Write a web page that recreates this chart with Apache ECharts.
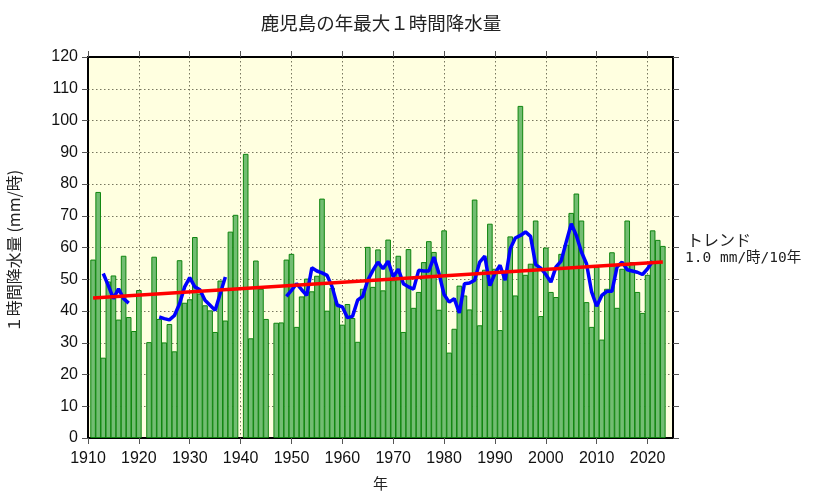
<!DOCTYPE html>
<html>
  <head>
    <meta charset="utf-8" />
    <title>鹿児島の年最大1時間降水量</title>
    <script src="https://cdn.jsdelivr.net/npm/echarts@6/dist/echarts.min.js"></script>
    <style>
      body { margin: 0; background: #fff; }
      #chart { width: 833px; height: 498px; }
    </style>
  </head>
<body>
  <div id="chart"></div>
  <script type="text/javascript">
// rainfall per year, starting 1911 (null = no data)
var firstYear = 1911;
var rainfall = [
  56.2, 77.5, 25.3, 49.3, 51.2, 37.3, 57.4, 38.1, 33.7, 46.6,
  null, 30.2, 57.1, 37.5, 30.1, 35.9, 27.3, 56.0, 42.6, 43.7,
  63.3, 45.5, 41.8, 40.2, 33.4, 49.6, 37.0, 65.0, 70.3, null,
  89.5, 31.4, 55.9, 47.0, 37.5, null, 36.3, 36.4, 56.2, 58.0,
  35.0, 44.6, 50.2, 46.2, 51.1, 75.4, 40.1, 47.3, 42.3, 35.7,
  42.2, 37.8, 30.3, 47.0, 60.2, 47.6, 59.4, 46.5, 62.5, 49.7,
  57.4, 33.4, 59.5, 41.0, 46.0, 55.4, 62.0, 58.6, 40.4, 65.4,
  26.9, 34.4, 48.0, 44.9, 40.5, 75.1, 35.5, 53.0, 67.5, 53.3,
  34.0, 51.8, 63.5, 44.9, 104.6, 51.4, 54.9, 68.5, 38.4, 60.0,
  46.0, 44.4, 58.0, 60.9, 70.9, 77.0, 68.5, 42.8, 35.0, 53.9,
  31.0, 47.0, 58.5, 41.0, 53.3, 68.5, 55.4, 46.0, 39.4, 51.4,
  65.4, 62.4, 60.5
];
// five year running mean, null where it breaks
var meanYears = [
  1913, 1914, 1915, 1916, 1917, 1918, 1919,
  1924, 1925, 1926, 1927, 1928, 1929, 1930, 1931, 1932, 1933, 1934, 1935, 1936, 1937, 1938,
  1949, 1950, 1951, 1952, 1953, 1954, 1955, 1956, 1957, 1958, 1959, 1960, 1961, 1962, 1963,
  1964, 1965, 1966, 1967, 1968, 1969, 1970, 1971, 1972, 1973, 1974, 1975, 1976, 1977, 1978,
  1979, 1980, 1981, 1982, 1983, 1984, 1985, 1986, 1987, 1988, 1989, 1990, 1991, 1992, 1993,
  1994, 1995, 1996, 1997, 1998, 1999, 2000, 2001, 2002, 2003, 2004, 2005, 2006, 2007, 2008,
  2009, 2010, 2011, 2012, 2013, 2014, 2015, 2016, 2017, 2018, 2019, 2020, 2021
];
var meanValues = [
  51.8, 48.0, 43.9, 47.0, 43.9, 42.5, null,
  38.1, 37.6, 37.2, 38.6, 42.3, 47.6, 50.5, 47.6, 46.7, 43.4, 41.8, 40.2, 45.5, 50.7, null,
  44.6, 46.5, 48.6, 46.7, 44.9, 53.6, 52.6, 52.0, 51.2, 47.6, 41.8, 41.3, 37.9, 38.3, 43.4,
  44.6, 49.7, 52.8, 55.4, 53.3, 55.7, 50.7, 53.2, 48.6, 47.6, 46.9, 52.8, 52.6, 52.6, 57.0,
  51.8, 45.2, 42.8, 43.9, 39.4, 48.6, 48.8, 49.7, 55.4, 57.3, 48.0, 51.8, 54.4, 49.7, 59.6,
  63.0, 63.8, 64.9, 63.5, 54.6, 53.5, 51.5, 49.1, 53.9, 55.7, 61.7, 67.5, 63.8, 58.6, 54.9,
  46.0, 41.5, 44.9, 46.2, 46.2, 53.9, 55.4, 53.0, 52.6, 52.2, 51.5, 53.3, 55.7
];
var trendYears = [1911, 2023];
var trendValues = [44.1, 55.4];
var tickYears = [1910, 1920, 1930, 1940, 1950, 1960, 1970, 1980, 1990, 2000, 2010, 2020];

var fontLatin = 'Liberation Sans, Arial, sans-serif';
var fontJp = '"Noto Sans CJK JP", sans-serif';

function pairs(xs, ys) {
  return xs.map(function (x, i) { return [x, ys[i]]; });
}
var barData = rainfall.map(function (v, i) { return [firstYear + i, v]; });

var frameLine = { show: true, onZero: false, lineStyle: { color: '#000', width: 2 } };
var tick = { show: true, inside: false, length: 6, lineStyle: { color: '#555', width: 1 } };
var xTick = { show: true, inside: false, length: 6, customValues: tickYears, lineStyle: { color: '#555', width: 1 } };
var dots = { show: true, lineStyle: { color: '#77775f', width: 1, type: [1.5, 2.5] } };

var chart = echarts.init(document.getElementById('chart'));
chart.setOption({
  animation: false,
  backgroundColor: '#fff',
  textStyle: { fontFamily: fontLatin },
  title: {
    text: '鹿児島の年最大１時間降水量',
    left: 376,
    top: 9,
    textAlign: 'center',
    textStyle: { fontFamily: fontJp, fontSize: 18.5, fontWeight: 'normal', color: '#222' }
  },
  grid: {
    left: 88, right: 160, top: 57, bottom: 60,
    outerBoundsMode: 'none',
    show: true,
    backgroundColor: '#ffffe0',
    borderWidth: 0
  },
  xAxis: [
    {
      type: 'value', min: 1910, max: 2025, interval: 10,
      name: '年', nameLocation: 'middle', nameGap: 38,
      nameTextStyle: { fontFamily: fontJp, fontSize: 15, color: '#222' },
      axisLine: frameLine, axisTick: xTick, splitLine: dots,
      axisLabel: {
        fontFamily: fontLatin, fontSize: 16, color: '#111', margin: 13,
        customValues: tickYears,
        formatter: function (v) { return String(v); }
      }
    },
    {
      type: 'value', min: 1910, max: 2025, interval: 10, position: 'top',
      axisLine: frameLine, axisTick: xTick, splitLine: { show: false }, axisLabel: { show: false }
    }
  ],
  yAxis: [
    {
      type: 'value', min: 0, max: 120, interval: 10,
      name: '１時間降水量 (mm/時)', nameLocation: 'middle', nameGap: 66,
      nameTextStyle: { fontFamily: fontJp, fontSize: 16, color: '#222', padding: [0, 7, 0, 0] },
      axisLine: frameLine, axisTick: tick, splitLine: dots,
      axisLabel: { fontFamily: fontLatin, fontSize: 16, color: '#111', margin: 10 }
    },
    {
      type: 'value', min: 0, max: 120, interval: 10, position: 'right',
      axisLine: frameLine, axisTick: tick, splitLine: { show: false }, axisLabel: { show: false }
    }
  ],
  graphic: [
    {
      type: 'text', left: 687, top: 232,
      style: { text: 'トレンド', font: '16px ' + fontJp, fill: '#222' }
    },
    {
      type: 'text', left: 685, top: 251,
      style: { text: '1.0 mm/時/10年', font: '14.5px "DejaVu Sans Mono", ' + fontJp, fill: '#222' }
    }
  ],
  series: [
    {
      type: 'bar',
      data: barData,
      barWidth: 5.6,
      itemStyle: { color: '#72bd72', borderColor: '#0f850f', borderWidth: 1 },
      z: 2
    },
    {
      type: 'line',
      data: pairs(meanYears, meanValues),
      showSymbol: false,
      connectNulls: false,
      lineStyle: { color: '#0000ff', width: 3.5 },
      z: 3
    },
    {
      type: 'line',
      data: pairs(trendYears, trendValues),
      showSymbol: false,
      lineStyle: { color: '#ff0000', width: 3.5 },
      z: 4
    }
  ]
});
  </script>
</body>
</html>
